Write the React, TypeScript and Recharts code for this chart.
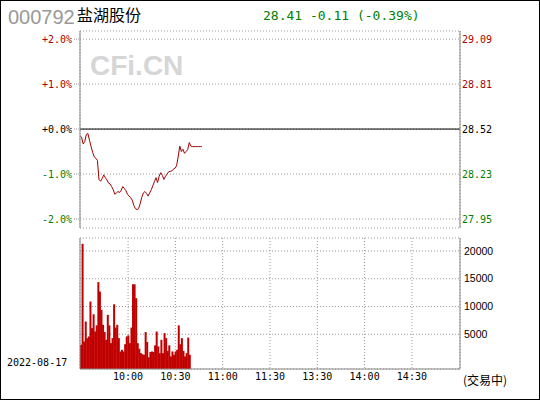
import { Bar, BarChart, CartesianGrid, Line, LineChart, ReferenceLine, XAxis, YAxis } from "recharts";

const MONO = "DejaVu Sans Mono";

// minute categories 9:30..11:30, 13:01..15:00
const fmt = (m: number) => `${Math.floor(m / 60)}:${String(m % 60).padStart(2, "0")}`;
const times: string[] = [];
for (let i = 0; i <= 120; i++) times.push(fmt(9 * 60 + 30 + i));
for (let i = 1; i <= 120; i++) times.push(fmt(13 * 60 + i));

const timeTicks = ["10:00", "10:30", "11:00", "11:30", "13:30", "14:00", "14:30"];

const pctTicks = [2, 1, 0, -1, -2];
const pctLabels = ["+2.0%", "+1.0%", "+0.0%", "-1.0%", "-2.0%"];
const priceLabels = ["29.09", "28.81", "28.52", "28.23", "27.95"];

// % change vs previous close 28.52, one per minute
const pctChange = [
  -0.15, -0.18, -0.33, -0.28, -0.12, -0.1, -0.25, -0.39, -0.52, -0.62,
  -0.65, -0.7, -1.12, -1.16, -1.1, -1.02, -1.08, -1.13, -1.2, -1.22,
  -1.28, -1.35, -1.45, -1.42, -1.39, -1.41, -1.36, -1.28, -1.32, -1.37,
  -1.45, -1.49, -1.53, -1.58, -1.7, -1.77, -1.79, -1.77, -1.66, -1.52,
  -1.42, -1.39, -1.43, -1.49, -1.42, -1.35, -1.26, -1.17, -1.08, -1.19,
  -1.05, -0.97, -1.03, -1.12, -1.05, -1.0, -0.95, -0.94, -0.93, -0.89,
  -0.87, -0.82, -0.62, -0.38, -0.5, -0.45, -0.54, -0.5, -0.46, -0.3,
  -0.38, -0.39, -0.39, -0.39, -0.39, -0.39, -0.39, -0.39,
];

const volume = [
  3100, 21300, 3700, 7300, 4300, 4600, 10900, 6100, 8600, 5500,
  6600, 14400, 12700, 9400, 6700, 5400, 4000, 8500, 6600, 3400,
  4300, 10400, 6200, 6700, 4300, 1900, 2200, 1900, 3200, 4600,
  4800, 3400, 6200, 14000, 14000, 11500, 3400, 2400, 1600, 1400,
  1300, 5400, 3600, 850, 1800, 1900, 1800, 3000, 5500, 2800,
  1600, 4000, 1600, 5200, 4300, 2000, 3000, 1000, 1900, 1300,
  1900, 2200, 6600, 3200, 4300, 2000, 1000, 1600, 4400, 1300,
];
const volTicks = [5000, 10000, 15000, 20000];
const volFloor = -1260;
const volTop = 22340;

const rows = times.map((t, i) => ({
  t,
  pct: i < pctChange.length ? pctChange[i] : null,
  vol: i < volume.length ? [volFloor, volume[i]] : null,
}));

const signColor = (v: number) => (v > 0 ? "#a80000" : v < 0 ? "#008000" : "#000");

const makeTick = (labels: string[], anchor: "start" | "end") => (props: any) => {
  const idx = pctTicks.indexOf(props.payload.value);
  return (
    <text
      x={props.x}
      y={props.y}
      dy="0.355em"
      textAnchor={anchor}
      fill={signColor(props.payload.value)}
      fontSize={10}
      fontFamily={MONO}
    >
      {labels[idx]}
    </text>
  );
};

const grid = "#999";
const frame = "#888";

export default function App() {
  return (
    <div style={{ position: "absolute", left: 0, top: 0, width: 540, height: 400, background: "#fff", overflow: "hidden" }}>
      <div style={{ position: "absolute", left: 8, top: 6, fontFamily: "Liberation Sans", fontSize: 20, color: "#999" }}>000792</div>
      <div style={{ position: "absolute", left: 77, top: 6, fontFamily: "Noto Sans CJK SC", fontSize: 16, lineHeight: "16px", color: "#000" }}>盐湖股份</div>
      <div style={{ position: "absolute", left: 263, top: 9, fontFamily: MONO, fontSize: 13, lineHeight: "13px", color: "#008000", whiteSpace: "pre" }}>28.41 -0.11 (-0.39%)</div>
      <div style={{ position: "absolute", left: 90, top: 52, fontFamily: "Liberation Sans", fontWeight: 700, fontSize: 28, lineHeight: "28px", color: "#d6d6d6" }}>CFi.CN</div>

      <div style={{ position: "absolute", left: 0, top: 0 }}>
        <LineChart width={540} height={232} data={rows} margin={{ top: 31, right: 0, bottom: 4, left: 0 }}>
          <CartesianGrid xAxisId="b" yAxisId="l" stroke={grid} strokeDasharray="1 2" />
          <XAxis xAxisId="b" dataKey="t" ticks={timeTicks} interval={0} tick={false} tickLine={false} height={0} axisLine={{ stroke: frame }} />
          <XAxis xAxisId="top" orientation="top" dataKey="t" tick={false} tickLine={false} height={0} axisLine={{ stroke: frame }} />
          <YAxis
            yAxisId="l"
            domain={[-2.2, 2.18]}
            ticks={pctTicks}
            interval={0}
            width={80}
            tickSize={6}
            tickMargin={2}
            tickLine={{ stroke: grid, strokeDasharray: "1 1" }}
            axisLine={{ stroke: frame }}
            tick={makeTick(pctLabels, "end")}
            allowDataOverflow
          />
          <YAxis
            yAxisId="r"
            orientation="right"
            domain={[-2.2, 2.18]}
            ticks={pctTicks}
            interval={0}
            width={80}
            tickSize={0}
            tickMargin={2}
            tickLine={false}
            axisLine={{ stroke: frame }}
            tick={makeTick(priceLabels, "start")}
            allowDataOverflow
          />
          <ReferenceLine xAxisId="b" yAxisId="l" y={0} stroke="#000" />
          <Line
            xAxisId="b"
            yAxisId="l"
            dataKey="pct"
            type="linear"
            stroke="#a00000"
            strokeWidth={1}
            dot={false}
            isAnimationActive={false}
          />
        </LineChart>
      </div>

      <div style={{ position: "absolute", left: 0, top: 232 }}>
        <BarChart width={540} height={168} data={rows} margin={{ top: 6, right: 0, bottom: 0, left: 0 }} barCategoryGap={0}>
          <CartesianGrid xAxisId="b" yAxisId="r" stroke={grid} strokeDasharray="1 2" />
          <XAxis
            xAxisId="b"
            dataKey="t"
            ticks={timeTicks}
            interval={0}
            height={31}
            tickSize={0}
            tickMargin={4}
            tickLine={false}
            axisLine={{ stroke: frame }}
            tick={{ fill: "#000", fontSize: 10, fontFamily: MONO }}
          />
          <XAxis xAxisId="top" orientation="top" dataKey="t" tick={false} tickLine={false} height={0} axisLine={{ stroke: frame }} />
          <YAxis yAxisId="l" domain={[0, 1]} width={80} tick={false} tickLine={false} axisLine={{ stroke: frame }} />
          <YAxis
            yAxisId="r"
            orientation="right"
            domain={[volFloor, volTop]}
            ticks={volTicks}
            interval={0}
            width={80}
            tickSize={0}
            tickMargin={4}
            tickLine={false}
            axisLine={{ stroke: frame }}
            tick={{ fill: "#000", fontSize: 10.5, fontFamily: "Liberation Sans" }}
            allowDataOverflow
          />
          <Bar xAxisId="b" yAxisId="r" dataKey="vol" fill="#c00000" isAnimationActive={false} />
        </BarChart>
      </div>

      <div style={{ position: "absolute", left: 7, top: 357, fontFamily: MONO, fontSize: 10, lineHeight: "12px", color: "#000" }}>2022-08-17</div>
      <div style={{ position: "absolute", left: 463, top: 373, fontFamily: "Noto Sans CJK SC", fontSize: 12, lineHeight: "14px", color: "#000" }}>(交易中)</div>
      <div style={{ position: "absolute", left: 0, top: 0, width: 540, height: 400, boxSizing: "border-box", border: "1px solid #000", pointerEvents: "none" }} />
    </div>
  );
}
